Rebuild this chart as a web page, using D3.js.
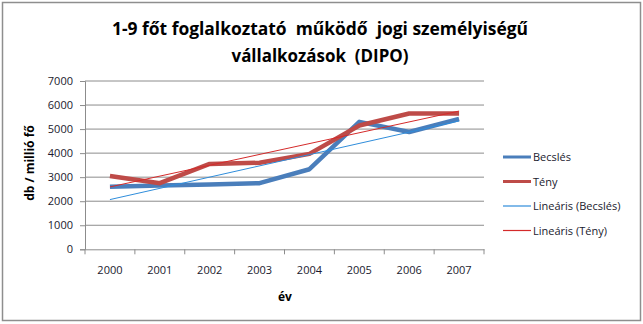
<!DOCTYPE html>
<html><head><meta charset="utf-8">
<script src="https://cdn.jsdelivr.net/npm/d3@7"></script>
<style>body{margin:0;background:#fff}svg{display:block}text{font-family:"Open Sans",sans-serif}.pre{white-space:pre}</style>
</head><body><svg id="c" width="643" height="324"></svg>
<script>
const years = ["2000","2001","2002","2003","2004","2005","2006","2007"];
const becsles = [2600, 2650, 2700, 2750, 3330, 5300, 4880, 5420];
const teny = [3050, 2750, 3550, 3600, 3970, 5150, 5650, 5650];
const yTicks = [0,1000,2000,3000,4000,5000,6000,7000];
const titleLines = ["1-9 főt foglalkoztató  működő  jogi személyiségű", "vállalkozások  (DIPO)"];
const legendNames = ["Becslés","Tény","Lineáris (Becslés)","Lineáris (Tény)"];

const svg = d3.select("#c");
svg.append("rect").attr("x",2.5).attr("y",2.5).attr("width",638).attr("height",318)
  .attr("fill","#fff").attr("stroke","#8e8e8e").attr("stroke-width",1.5);

const L=85, R=484, T=81, B=249.3;
const x = d3.scaleBand().domain(years).range([L,R]);
const y = d3.scaleLinear().domain([0,7000]).range([B,T]);

svg.append("g").selectAll("line").data(yTicks.slice(1)).join("line")
  .attr("x1",L).attr("x2",R).attr("y1",d=>y(d)).attr("y2",d=>y(d))
  .attr("stroke","#8c8c8c").attr("stroke-width",1);

const ya = svg.append("g").attr("transform",`translate(${L},0)`)
  .call(d3.axisLeft(y).tickValues(yTicks).tickSize(5).tickPadding(7).tickFormat(d3.format("d")));
ya.select(".domain").attr("stroke","#8c8c8c");
ya.selectAll(".tick line").attr("stroke","#8c8c8c");
ya.selectAll("text").attr("font-size",11).attr("fill","#1a1a2e").attr("font-family","Open Sans");

const xa = svg.append("g").attr("transform",`translate(0,${B})`)
  .call(d3.axisBottom(x).tickSize(0).tickPadding(17));
xa.select(".domain").attr("stroke","#8c8c8c");
xa.selectAll("text").attr("font-size",11).attr("fill","#1a1a2e").attr("font-family","Open Sans");
const bounds = years.map(d=>x(d)).concat([R]);
svg.append("g").selectAll("line").data(bounds).join("line")
  .attr("x1",d=>d).attr("x2",d=>d).attr("y1",B).attr("y2",B+5)
  .attr("stroke","#8c8c8c");

function reg(vals){
  const n=vals.length, xs=vals.map((_,i)=>i+1);
  const mx=d3.mean(xs), my=d3.mean(vals);
  const b=d3.sum(xs.map((xi,i)=>(xi-mx)*(vals[i]-my)))/d3.sum(xs.map(xi=>(xi-mx)**2));
  const a=my-b*mx;
  return [[years[0],a+b*1],[years[n-1],a+b*n]];
}
const cx = d=>x(d)+x.bandwidth()/2;
const line = d3.line().x(d=>cx(d[0])).y(d=>y(d[1]));

const series = [
  {data: years.map((d,i)=>[d,becsles[i]]), color:"#4a7ebb", w:4.5},
  {data: years.map((d,i)=>[d,teny[i]]), color:"#be4b48", w:4.5},
  {data: reg(becsles), color:"#2f8ddb", w:1},
  {data: reg(teny), color:"#d42a2a", w:1}
];
series.forEach(s=>{
  svg.append("path").attr("d",line(s.data)).attr("fill","none")
    .attr("stroke",s.color).attr("stroke-width",s.w).attr("stroke-linejoin","round");
});

svg.append("text").attr("class","pre").attr("x",320).attr("y",35).attr("text-anchor","middle")
  .attr("font-size",18).attr("font-weight","bold").attr("fill","#000")
  .attr("textLength",416).attr("lengthAdjust","spacingAndGlyphs").text(titleLines[0]);
svg.append("text").attr("class","pre").attr("x",320).attr("y",62).attr("text-anchor","middle")
  .attr("font-size",18).attr("font-weight","bold").attr("fill","#000")
  .attr("textLength",177).attr("lengthAdjust","spacingAndGlyphs").text(titleLines[1]);

svg.append("text").attr("transform","translate(34,163) rotate(-90)").attr("text-anchor","middle")
  .attr("font-size",12).attr("font-weight","bold").attr("fill","#000").text("db / millió fő");
svg.append("text").attr("x",285).attr("y",301).attr("text-anchor","middle")
  .attr("font-size",12).attr("font-weight","bold").attr("fill","#000").text("év");

const lg = svg.append("g");
legendNames.forEach((n,i)=>{
  const yy = 157 + i*24.5;
  lg.append("line").attr("x1",503).attr("x2",531).attr("y1",yy).attr("y2",yy)
    .attr("stroke",series[i].color).attr("stroke-width",i<2?3:1.2);
  lg.append("text").attr("x",533).attr("y",yy+4).attr("font-size",11).attr("fill","#1a1a2e").text(n);
});
</script></body></html>
